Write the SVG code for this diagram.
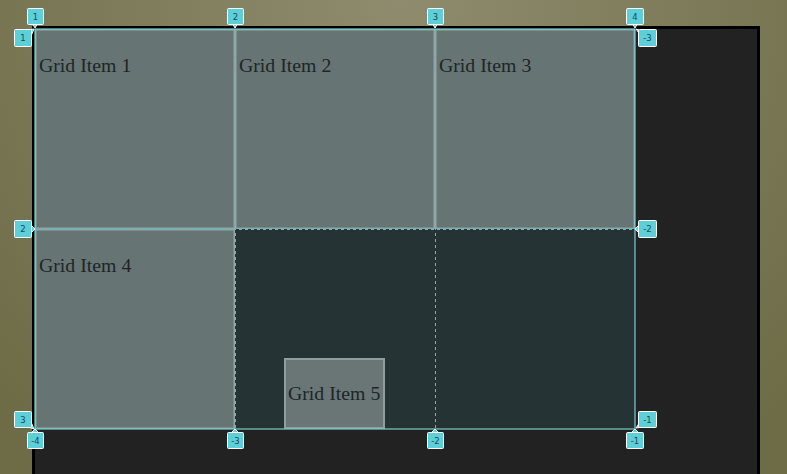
<svg xmlns="http://www.w3.org/2000/svg" width="787" height="474" viewBox="0 0 787 474">
<defs>
<radialGradient id="bg" cx="400" cy="0" r="560" gradientUnits="userSpaceOnUse">
<stop offset="0" stop-color="#8f8b6e"/>
<stop offset="1" stop-color="#6e6c47"/>
</radialGradient>
</defs>
<style>
.item{fill:#677474;stroke:#8fa6a6;stroke-width:1.5}
.txt{font-family:"Liberation Serif",serif;font-size:19.8px;fill:#1c2626}
.dash{stroke:#3ccad4;stroke-width:1;stroke-dasharray:3 3;fill:none}
.lbl rect{fill:#5ccfd8;stroke:#ffffff;stroke-width:1}
.lbl path{fill:#5ccfd8;stroke:#ffffff;stroke-width:1}
.lbl text{font-family:"DejaVu Sans",sans-serif;font-size:8.5px;fill:#1d4a50;text-anchor:middle}
</style>
<rect x="0" y="0" width="787" height="474" fill="url(#bg)"/>
<rect id="container" x="33.5" y="27.5" width="725" height="460" fill="#222222" stroke="#000000" stroke-width="3"/>
<rect id="area" x="235" y="229" width="400" height="200" fill="#263335"/>
<g id="item1"><rect class="item" x="35.75" y="29.75" width="198.5" height="198.5"/><text class="txt" x="39" y="72">Grid Item 1</text></g>
<g id="item2"><rect class="item" x="235.75" y="29.75" width="198.5" height="198.5"/><text class="txt" x="239" y="72">Grid Item 2</text></g>
<g id="item3"><rect class="item" x="435.75" y="29.75" width="198.5" height="198.5"/><text class="txt" x="439" y="72">Grid Item 3</text></g>
<g id="item4"><rect class="item" x="35.75" y="229.75" width="198.5" height="198.5"/><text class="txt" x="39" y="272">Grid Item 4</text></g>
<g id="item5"><rect x="285" y="359" width="99" height="69" fill="#6a7676" stroke="#8d9f9f" stroke-width="2"/><text class="txt" x="288" y="400">Grid Item 5</text></g>
<g id="connectors">
<line class="dash" x1="235.5" y1="29" x2="235.5" y2="429"/>
<line class="dash" x1="435.5" y1="29" x2="435.5" y2="429"/>
<line class="dash" x1="35" y1="229.5" x2="635" y2="229.5"/>
<rect x="35" y="29" width="600" height="400" fill="none" stroke="#7ccfd0" stroke-width="1.2"/>
</g>
<g id="labels">
<g class="lbl"><path d="M31 21 L35 28 L39 21Z"/><rect x="27.5" y="8.5" width="16" height="16" rx="1"/><text x="35.5" y="19.5">1</text></g>
<g class="lbl"><path d="M231 21 L235 28 L239 21Z"/><rect x="227.5" y="8.5" width="16" height="16" rx="1"/><text x="235.5" y="19.5">2</text></g>
<g class="lbl"><path d="M431 21 L435 28 L439 21Z"/><rect x="427.5" y="8.5" width="16" height="16" rx="1"/><text x="435.5" y="19.5">3</text></g>
<g class="lbl"><path d="M631 21 L635 28 L639 21Z"/><rect x="626.5" y="8.5" width="17" height="16" rx="1"/><text x="635" y="19.5">4</text></g>
<g class="lbl"><path d="M28 30 L34 29 L31 36Z"/><rect x="14.5" y="29.5" width="17" height="17" rx="1"/><text x="23" y="41">1</text></g>
<g class="lbl"><path d="M31 225 L35 229 L31 233Z"/><rect x="14.5" y="220.5" width="17" height="17" rx="1"/><text x="23" y="232">2</text></g>
<g class="lbl"><path d="M28 427 L34 429 L31 422Z"/><rect x="14.5" y="411.5" width="17" height="16" rx="1"/><text x="23" y="422.5">3</text></g>
<g class="lbl"><path d="M639 30 L636 29 L641 36Z"/><rect x="638.5" y="29.5" width="18" height="17" rx="1"/><text x="647.5" y="41">-3</text></g>
<g class="lbl"><path d="M639 225 L635 229 L639 233Z"/><rect x="638.5" y="220.5" width="18" height="17" rx="1"/><text x="647.5" y="232">-2</text></g>
<g class="lbl"><path d="M640 422 L636 428 L643 427Z"/><rect x="638.5" y="411.5" width="18" height="16" rx="1"/><text x="647.5" y="422.5">-1</text></g>
<g class="lbl"><path d="M31 433 L35 429 L39 433Z"/><rect x="27.5" y="432.5" width="16" height="16" rx="1"/><text x="35.5" y="443.5">-4</text></g>
<g class="lbl"><path d="M231 433 L235 429 L239 433Z"/><rect x="227.5" y="432.5" width="16" height="16" rx="1"/><text x="235.5" y="443.5">-3</text></g>
<g class="lbl"><path d="M431 433 L435 429 L439 433Z"/><rect x="427.5" y="432.5" width="16" height="16" rx="1"/><text x="435.5" y="443.5">-2</text></g>
<g class="lbl"><path d="M631 433 L635 429 L639 433Z"/><rect x="626.5" y="432.5" width="17" height="16" rx="1"/><text x="635" y="443.5">-1</text></g>
</g>
</svg>
